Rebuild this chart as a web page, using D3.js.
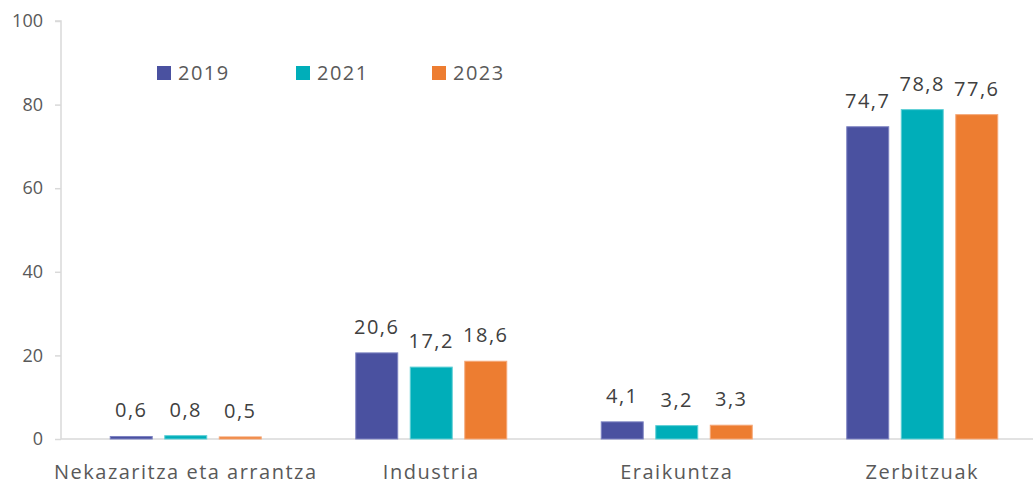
<!DOCTYPE html>
<html><head><meta charset="utf-8">
<script src="https://cdn.jsdelivr.net/npm/d3@7"></script>
<style>
html,body{margin:0;padding:0;background:#fff;}
svg{display:block;font-family:"Open Sans",sans-serif;}
</style></head>
<body>
<svg id="chart" width="1033" height="487"></svg>
<script>
const categories = ["Nekazaritza eta arrantza", "Industria", "Eraikuntza", "Zerbitzuak"];
const seriesNames = ["2019", "2021", "2023"];
const values2019 = [0.6, 20.6, 4.1, 74.7];
const values2021 = [0.8, 17.2, 3.2, 78.8];
const values2023 = [0.5, 18.6, 3.3, 77.6];
const yTicks = [0, 20, 40, 60, 80, 100];
const colors = ["#4A51A0", "#00AEB9", "#ED7D31"];
const strokes = ["#7D83C2", "#5ECFD6", "#F5A878"];

const seriesValues = [values2019, values2021, values2023];
const svg = d3.select("#chart");
const plotLeft = 61, plotBottom = 439, plotTop = 21;
const x0 = d3.scaleBand().domain(categories).range([plotLeft + 2, plotLeft + 2 + 4 * 245.5]).padding(0);
const x1 = d3.scaleBand().domain(seriesNames).range([0, 151]).paddingInner(0.23).paddingOuter(0);
const y = d3.scaleLinear().domain([0, 100]).range([plotBottom, plotTop]);
const fmt = v => String(v.toFixed(1)).replace(".", ",");

// Y axis
const yAxis = svg.append("g").attr("transform", `translate(${plotLeft},0)`)
  .call(d3.axisLeft(y).tickValues(yTicks).tickSize(6).tickPadding(12).tickFormat(d => d));
yAxis.select(".domain").attr("stroke", "#D9D9D9").attr("stroke-width", 1.5)
  .attr("d", `M-6,${plotTop}H0V${plotBottom}`);
yAxis.selectAll(".tick line").attr("stroke", "#D9D9D9").attr("stroke-width", 1.5);
yAxis.selectAll(".tick text").attr("fill", "#595959").attr("font-size", 18)
  .attr("font-family", "'Open Sans',sans-serif");

// X axis line
const xAxis = svg.append("g").attr("transform", `translate(0,${plotBottom})`)
  .call(d3.axisBottom(x0).tickSize(0).tickPadding(26));
xAxis.select(".domain").attr("stroke", "#D9D9D9").attr("stroke-width", 1.5)
  .attr("d", `M${plotLeft},0H1033`);
xAxis.selectAll(".tick text").attr("fill", "#595959").attr("font-size", 20)
  .attr("letter-spacing", 1.5)
  .attr("font-family", "'Open Sans',sans-serif");

// Bars
categories.forEach((cat, ci) => {
  const cx = x0(cat) + x0.bandwidth() / 2 - 75.5;
  seriesNames.forEach((s, si) => {
    const v = seriesValues[si][ci];
    const bx = cx + x1(s);
    svg.append("rect")
      .attr("x", bx).attr("y", y(v))
      .attr("width", x1.bandwidth()).attr("height", plotBottom - y(v))
      .attr("fill", colors[si]).attr("stroke", strokes[si]).attr("stroke-width", 1);
    svg.append("text")
      .attr("x", bx + x1.bandwidth() / 2).attr("y", y(v) - 19)
      .attr("text-anchor", "middle").attr("fill", "#404040").attr("font-size", 20)
      .attr("letter-spacing", 1.5)
      .text(fmt(v));
  });
});

// Legend
const legendX = [157, 296, 432];
seriesNames.forEach((s, si) => {
  const g = svg.append("g").attr("transform", `translate(${legendX[si]},66)`);
  g.append("rect").attr("width", 14).attr("height", 14).attr("fill", colors[si]);
  g.append("text").attr("x", 21).attr("y", 14).attr("font-size", 20)
    .attr("letter-spacing", 1.5)
    .attr("fill", "#595959").text(s);
});
</script>
</body></html>
